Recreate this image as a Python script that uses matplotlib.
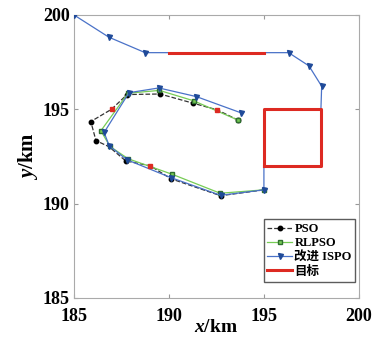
import matplotlib
matplotlib.use("Agg")
import matplotlib.pyplot as plt

plt.rcParams['mathtext.fontset'] = 'custom'
plt.rcParams['mathtext.it'] = 'Liberation Serif:italic:bold'
plt.rcParams['mathtext.rm'] = 'Liberation Serif:bold'

# ISPO (improved) path
ispo_x = [185, 186.84, 188.75, 196.3, 197.37, 198.04, 198, 198, 195, 195,
          192.72, 190.1, 187.8, 186.86, 186.59, 187.9, 189.47, 191.45, 193.77]
ispo_y = [200, 198.82, 198.0, 198.0, 197.3, 196.22, 195, 192, 192, 190.73,
          190.44, 191.38, 192.32, 193.06, 193.77, 195.88, 196.13, 195.67, 194.82]
ispo_marks = [0, 1, 2, 3, 4, 5, 9, 10, 11, 12, 13, 14, 15, 16, 17, 18]

# PSO path
pso_x = [193.65, 192.54, 191.28, 189.53, 187.8, 186.98, 185.89, 186.16, 186.84,
         187.72, 189.03, 190.1, 192.72, 195.0]
pso_y = [194.42, 194.97, 195.32, 195.81, 195.78, 195.0, 194.35, 193.34, 193.02,
         192.27, 192.0, 191.32, 190.42, 190.73]
pso_marks = [0, 2, 3, 4, 6, 7, 9, 11, 12]

# RLPSO path
rl_x = [193.65, 191.3, 189.5, 187.85, 186.42, 186.9, 187.85, 190.16, 192.7, 195.0]
rl_y = [194.42, 195.45, 196.0, 195.85, 193.86, 193.03, 192.38, 191.56, 190.55, 190.73]

# red highlighted points
red_x = [186.98, 189.03, 192.54]
red_y = [195.0, 192.0, 194.97]

# targets
tline_x = [190, 195]
tline_y = [198, 198]
rect_x = [195, 198, 198, 195, 195]
rect_y = [192, 192, 195, 195, 192]

fig = plt.figure(figsize=(3.79, 3.39), dpi=100)
ax = fig.add_axes([0.195, 0.121, 0.752, 0.835])

blue = '#4a72c8'
green = '#77cc55'
red = '#dd2a22'

ax.plot(pso_x, pso_y, '--', color='#333333', lw=0.9, marker='o', ms=3.2,
        mfc='black', mec='black', markevery=pso_marks, label='PSO', zorder=3)
ax.plot(rl_x, rl_y, '-', color=green, lw=0.9, marker='s', ms=3.0,
        mfc=green, mec='#2f6f2f', label='RLPSO', zorder=4)
ax.plot(ispo_x, ispo_y, '-', color=blue, lw=0.9, marker='v', ms=3.6,
        mfc='#1f4a99', mec='#1f4a99', markevery=ispo_marks, label='改进 ISPO', zorder=5)
ax.plot(red_x, red_y, 's', color=red, ms=3.5, zorder=6)
ax.plot(tline_x, tline_y, '-', color=red, lw=2.2, label='目标', zorder=6)
ax.plot(rect_x, rect_y, '-', color=red, lw=2.2, zorder=6)

ax.set_xlim(185, 200)
ax.set_ylim(185, 200)
ax.set_xticks([185, 190, 195, 200])
ax.set_yticks([185, 190, 195, 200])
ax.tick_params(direction='in', top=True, right=True, length=3, color='#999999',
               labelsize=13)
ax.tick_params(axis='x', pad=7)
ax.tick_params(axis='y', pad=3)
for lab in ax.get_xticklabels() + ax.get_yticklabels():
    lab.set_fontfamily('Liberation Serif')
    lab.set_fontweight('bold')
for s in ax.spines.values():
    s.set_color('#aaaaaa')
    s.set_linewidth(0.8)

ax.set_xlabel(r'$x$/km', fontsize=14, fontfamily='Liberation Serif',
              fontweight='bold', labelpad=-4)
ax.set_ylabel(r'$y$/km', fontsize=15, fontfamily='Liberation Serif',
              fontweight='bold', labelpad=2)

leg = ax.legend(loc='lower right', bbox_to_anchor=(0.988, 0.058),
                prop={'family': ['Liberation Serif', 'Noto Sans CJK SC'],
                      'weight': 'bold', 'size': 9},
                frameon=True, fancybox=False, handlelength=2.0,
                handletextpad=0.15, borderpad=0.3, labelspacing=0.18,
                borderaxespad=0.0)
leg.get_frame().set_edgecolor('#333333')
leg.get_frame().set_linewidth(1.0)

fig.savefig('out.png', dpi=100)
